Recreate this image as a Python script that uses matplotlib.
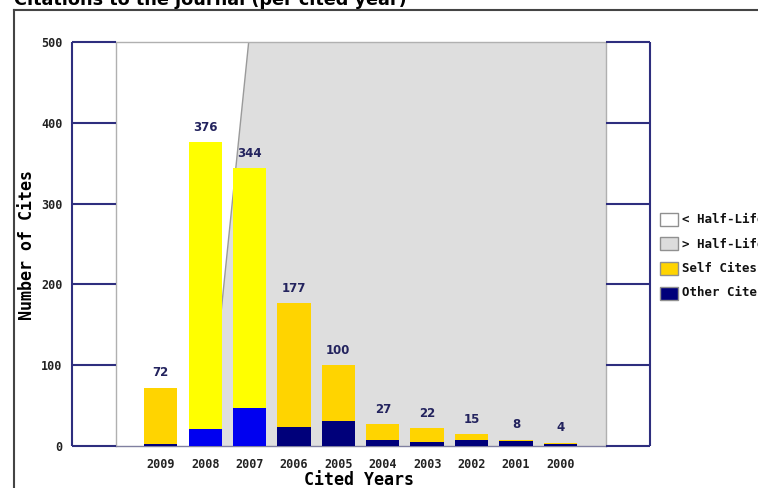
import matplotlib.pyplot as plt
from matplotlib.patches import Polygon, Rectangle
from matplotlib.lines import Line2D

years = ["2009", "2008", "2007", "2006", "2005", "2004", "2003", "2002", "2001", "2000"]
total_cites = [72, 376, 344, 177, 100, 27, 22, 15, 8, 4]
other_cites = [3, 21, 47, 24, 31, 8, 5, 8, 6, 3]
self_cites = [t - o for t, o in zip(total_cites, other_cites)]
impact_years = ["2008", "2007"]          # drawn in the bright colours
half_life_edge = (1.05, 1.98)             # boundary position at 0 and at 500
y_ticks = [0, 100, 200, 300, 400, 500]
legend_labels = ["< Half-Life", "> Half-Life", "Self Cites", "Other Cites"]
legend_colors = ["#FFFFFF", "#DCDCDC", "#FFD400", "#00007A"]

W, H = 758, 488
fig = plt.figure(figsize=(W / 100, H / 100), dpi=100)
ax = fig.add_axes([72 / W, 42 / H, 578 / W, 404 / H])

x = list(range(len(years)))
plot_l, plot_r = -1.01, 10.03
wing_l, wing_r = -2.0, 11.02
ax.set_xlim(wing_l, wing_r)
ax.set_ylim(0, 500)

# half-life shading
ax.add_patch(Polygon([(half_life_edge[0], 0), (half_life_edge[1], 500),
                      (plot_r, 500), (plot_r, 0)],
                     facecolor="#DEDEDE", edgecolor="none", zorder=0))
ax.plot(half_life_edge, [0, 500], color="#9A9A9A", lw=1, zorder=1)

# plot box
ax.plot([plot_l, plot_r], [500, 500], color="#B0B0B0", lw=1, clip_on=False)
ax.plot([plot_l, plot_l], [0, 500], color="#B0B0B0", lw=1, clip_on=False)
ax.plot([plot_r, plot_r], [0, 500], color="#B0B0B0", lw=1, clip_on=False)
ax.plot([plot_l, plot_r], [0, 0], color="#8080A0", lw=1, clip_on=False)

# side wings
navy = "#2E2E7E"
ax.hlines(y_ticks, wing_l, plot_l, color=navy, lw=1.5, clip_on=False)
ax.hlines(y_ticks, plot_r, wing_r, color=navy, lw=1.5, clip_on=False)
ax.vlines([wing_l, wing_r], 0, 500, color=navy, lw=1.5, clip_on=False)

# bars
other_col = ["#0000F0" if y in impact_years else "#00007A" for y in years]
self_col = ["#FFFF00" if y in impact_years else "#FFD400" for y in years]
ax.bar(x, other_cites, width=0.75, color=other_col, zorder=2)
ax.bar(x, self_cites, width=0.75, bottom=other_cites, color=self_col, zorder=2)

for xi, t in zip(x, total_cites):
    ax.annotate(str(t), (xi, t), xytext=(0, 6), textcoords="offset points",
                ha="center", va="bottom", fontsize=8.5, fontweight="bold",
                color="#23235E", family="DejaVu Sans", zorder=3)

for s in ax.spines.values():
    s.set_visible(False)
ax.set_xticks(x, years)
ax.set_yticks(y_ticks)
ax.tick_params(length=0, labelsize=8.5, labelcolor="#222222")
ax.tick_params(axis="x", pad=9)
ax.tick_params(axis="y", pad=7)
for lab in ax.get_xticklabels() + ax.get_yticklabels():
    lab.set_family("DejaVu Sans Mono")
    lab.set_fontweight("bold")

fig.text(27 / W, 1 - 245 / H, "Number of Cites", rotation=90, ha="center",
         va="center", fontsize=12, fontweight="bold", family="DejaVu Sans Mono")
fig.text(359 / W, 1 - 480 / H, "Cited Years", ha="center", va="center",
         fontsize=12, fontweight="bold", family="DejaVu Sans Mono")

# title, mostly cut off at the top as in the source screenshot
fig.text(14 / W, 1 - 5 / H, "Citations to the journal (per cited year)",
         ha="left", va="baseline", fontsize=12.7, fontweight="bold")

# outer frame
fig.add_artist(Line2D([14 / W, 14 / W], [0, 1 - 10 / H], color="#444444", lw=1.5))
fig.add_artist(Line2D([14 / W, 1], [1 - 10 / H, 1 - 10 / H], color="#444444", lw=1.5))

# legend
for i, (lab, col) in enumerate(zip(legend_labels, legend_colors)):
    cy = 219.5 + i * 24.5
    fig.add_artist(Rectangle((660 / W, 1 - (cy + 6.5) / H), 18 / W, 13 / H,
                             facecolor=col, edgecolor="#909090", lw=1,
                             transform=fig.transFigure))
    fig.text(682 / W, 1 - cy / H, lab, ha="left", va="center", fontsize=9,
             fontweight="bold", family="DejaVu Sans Mono", color="#111111")

fig.savefig("out.png", dpi=100)
